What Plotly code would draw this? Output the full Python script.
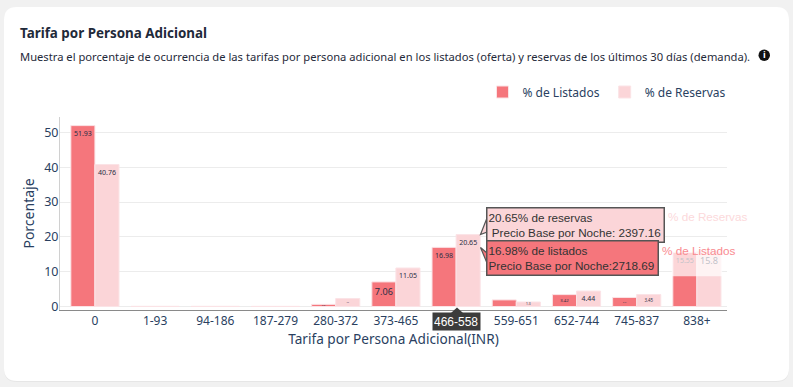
import plotly.graph_objects as go

categories = ["0", "1-93", "94-186", "187-279", "280-372", "373-465", "466-558",
              "559-651", "652-744", "745-837", "838+"]
listados = [51.93, 0.06, 0.06, 0.05, 0.62, 7.06, 16.98, 1.9, 3.42, 2.6, 15.55]
reservas = [40.76, 0.06, 0.06, 0.05, 2.3, 11.05, 20.65, 1.3, 4.44, 3.45, 15.8]
active_category = "466-558"
tip_reservas = "20.65% de reservas<br> Precio Base por Noche: 2397.16"
tip_listados = "16.98% de listados<br>Precio Base por Noche:2718.69"

W, H = 793, 387
L, R, T, B = 60, 727, 117, 310
FONT = "Noto Sans"
HOVER = "Liberation Sans"
INK = "#2a3f5f"
PINK = "#f5767c"
PALE = "#fbd5d8"
EDGE = "#fbe3e6"
TIPLINE = "#555555"


def px(x):
    return (x - L) / (R - L)


def py(y):
    return (B - y) / (B - T)


def round_rect(x0, y0, x1, y1, r):
    p = [f"M{px(x0 + r)},{py(y0)}", f"L{px(x1 - r)},{py(y0)}", f"Q{px(x1)},{py(y0)} {px(x1)},{py(y0 + r)}",
         f"L{px(x1)},{py(y1 - r)}", f"Q{px(x1)},{py(y1)} {px(x1 - r)},{py(y1)}",
         f"L{px(x0 + r)},{py(y1)}", f"Q{px(x0)},{py(y1)} {px(x0)},{py(y1 - r)}",
         f"L{px(x0)},{py(y0 + r)}", f"Q{px(x0)},{py(y0)} {px(x0 + r)},{py(y0)}", "Z"]
    return " ".join(p)


def poly(points):
    return "M" + " L".join(f"{px(x)},{py(y)}" for x, y in points) + " Z"


def labels(values):
    return [str(v) if v >= 0.1 else "" for v in values]


fig = go.Figure()
fig.add_bar(name="% de Listados", x=categories, y=listados, text=labels(listados),
            marker=dict(color=PINK, line=dict(color=EDGE, width=1)))
fig.add_bar(name="% de Reservas", x=categories, y=reservas, text=labels(reservas),
            marker=dict(color=PALE, line=dict(color=EDGE, width=1)))
fig.update_traces(textposition="inside", insidetextanchor="end", textangle=0,
                  textfont=dict(family=FONT, size=9.5, color="#2a2f45"), hoverinfo="skip")

shapes = [
    dict(type="path", xref="paper", yref="paper", layer="below", path=round_rect(4, 8, 789, 382, 13),
         fillcolor="#e6e6e6", line_width=0),
    dict(type="path", xref="paper", yref="paper", layer="below", path=round_rect(4, 7, 789, 381, 13),
         fillcolor="#ffffff", line_width=0),
    # fade over the top of the last category
    dict(type="rect", xref="x", yref="y", x0=9.58, x1=10.42, y0=8.7, y1=16.4,
         fillcolor="rgba(255,255,255,0.7)", line_width=0, layer="above"),
    # info icon
    dict(type="circle", xref="paper", yref="paper", x0=px(758.5), x1=px(770), y0=py(61), y1=py(49.5),
         fillcolor="#111111", line_width=0, layer="above"),
    # tooltip pointers
    dict(type="path", xref="paper", yref="paper", layer="above", path=poly([(487, 218), (480.5, 234.5), (487, 232)]),
         fillcolor=PALE, line=dict(color=TIPLINE, width=1.2)),
    dict(type="path", xref="paper", yref="paper", layer="above", path=poly([(487, 253), (480.5, 247.5), (487, 263)]),
         fillcolor=PINK, line=dict(color=TIPLINE, width=1.2)),
    # active tick marker
    dict(type="path", xref="paper", yref="paper", layer="above", path=poly([(451, 313), (457, 307.5), (463, 313)]),
         fillcolor="#3c3c3c", line_width=0),
]


def note(x, y, text, size, color, family=FONT, xanchor="left", yanchor="middle", **kw):
    return dict(xref="paper", yref="paper", x=px(x), y=py(y), text=text, showarrow=False, xanchor=xanchor,
                yanchor=yanchor, align="left", font=dict(family=family, size=size, color=color), **kw)


annotations = [
    note(18, 33, "<b>Tarifa por Persona Adicional</b>", 13.4, "#1f2a3a"),
    note(18, 56, "Muestra el porcentaje de ocurrencia de las tarifas por persona adicional en los listados (oferta) y reservas de los últimos 30 días (demanda).", 11.2, "#1f2a3a"),
    note(764.2, 55, "<b>i</b>", 9, "#ffffff", xanchor="center"),
    note(486, 224.5, tip_reservas, 11.7, "#333333", HOVER, bgcolor=PALE, bordercolor=TIPLINE, borderwidth=1.5,
         width=174, height=31, borderpad=1),
    note(486, 258, tip_listados, 11.7, "#333333", HOVER, bgcolor=PINK, bordercolor=TIPLINE, borderwidth=1.5,
         width=168, height=31, borderpad=1),
    note(666, 216, "% de Reservas", 11.7, "#fcd9db", HOVER),
    note(660, 250, "% de Listados", 11.7, "#f98a90", HOVER),
    note(456, 321, active_category, 12, "#ffffff", HOVER, xanchor="center", bgcolor="#3c3c3c", width=45, height=15, borderpad=1),
]

fig.update_layout(
    width=W, height=H, autosize=False, margin=dict(l=L, r=W - R, t=T, b=H - B, pad=0),
    paper_bgcolor="#f1f1f1", plot_bgcolor="rgba(0,0,0,0)",
    barmode="group", bargap=0.2, bargroupgap=0,
    font=dict(family=FONT, color=INK, size=12),
    shapes=shapes, annotations=annotations, hovermode=False,
    legend=dict(orientation="h", x=px(482.5), xanchor="left", y=py(92), yanchor="middle",
                font=dict(family=FONT, size=12, color=INK), bgcolor="rgba(0,0,0,0)",
                traceorder="normal"),
    xaxis=dict(type="category", categoryorder="array", categoryarray=categories, range=[-0.58, 10.5],
               tickmode="array", tickvals=categories,
               ticktext=["" if c == active_category else c for c in categories],
               title=dict(text="Tarifa por Persona Adicional(INR)", font=dict(size=13.6), standoff=6),
               showgrid=False, showline=True, linecolor="#8a8a8a", linewidth=1, ticks="", tickangle=0,
               tickfont=dict(size=12)),
    yaxis=dict(range=[-1, 54.4], tickvals=[0, 10, 20, 30, 40, 50], title=dict(text="Porcentaje", font=dict(size=14), standoff=6),
               showgrid=True, gridcolor="#ececec", gridwidth=1, zeroline=False, showline=True, linecolor="#d0d0d0",
               linewidth=1, ticks="", tickfont=dict(size=12.5), ticklabelstandoff=-2),
)

fig.write_html("out.html", config={"displayModeBar": False},
               post_script="document.body.style.margin='0';document.body.style.background='#f1f1f1';document.documentElement.style.overflow='hidden';")
